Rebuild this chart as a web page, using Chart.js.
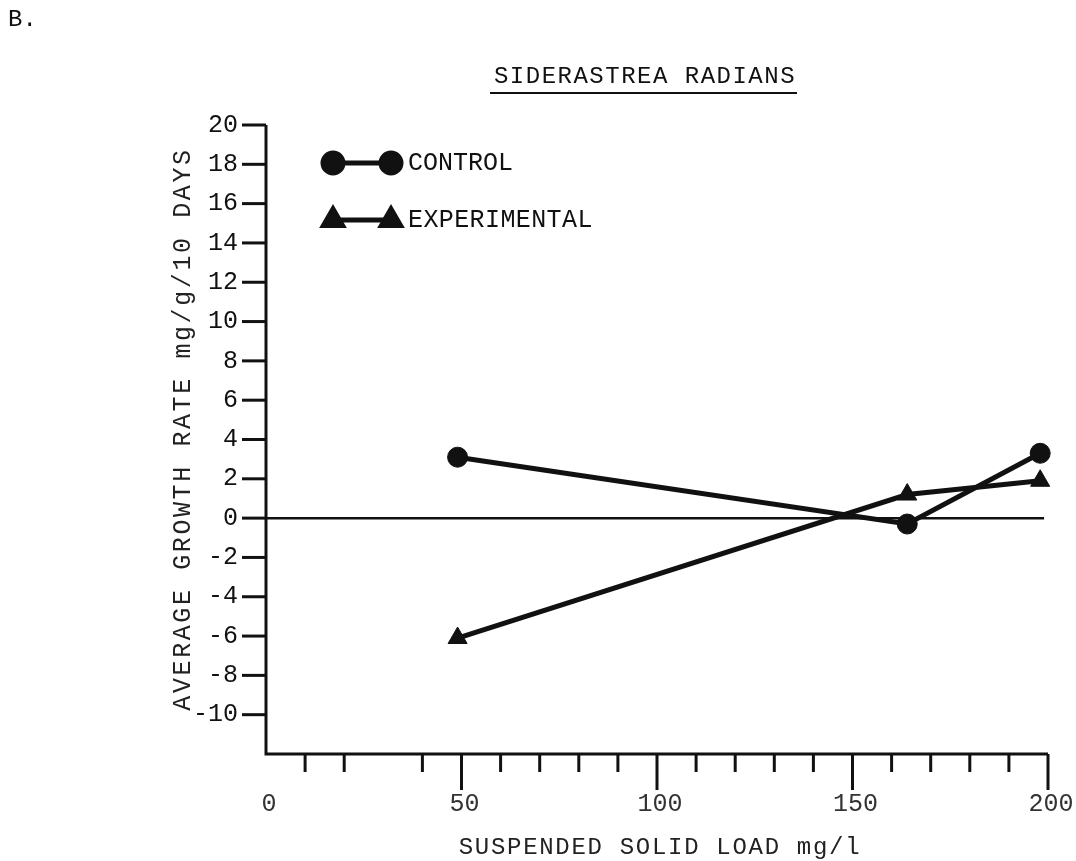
<!DOCTYPE html>
<html>
<head>
<meta charset="utf-8">
<title>Siderastrea radians growth rate</title>
<script src="https://cdn.jsdelivr.net/npm/chart.js@4.4.1/dist/chart.umd.min.js"></script>
<style>
  html, body { margin: 0; padding: 0; background: #fff; }
  #wrap { width: 1076px; height: 861px; position: relative; }
</style>
</head>
<body>
<div id="wrap"><canvas id="c" width="1076" height="861"></canvas></div>
<script>
// Suspended solid load (mg/l) for each measurement
const loads = [49, 164, 198];
// Average growth rate, mg/g per 10 days
const controlRate = [3.1, -0.3, 3.3];
const experimentalRate = [-6.1, 1.2, 1.9];

// Axis tick values and labels
const yTickValues = [20, 18, 16, 14, 12, 10, 8, 6, 4, 2, 0, -2, -4, -6, -8, -10];
const xShortTicks = [10, 20, 40, 60, 70, 80, 90, 110, 120, 130, 140, 160, 170, 180, 190];
const xLongTicks = [50, 100, 150, 200];
const xLabelValues = [0, 50, 100, 150, 200];

const FONT = '"Liberation Mono", "Courier New", monospace';

function text(ctx, str, x, y, size, align, spacing, color) {
  ctx.save();
  ctx.font = size + 'px ' + FONT;
  ctx.fillStyle = color || '#111';
  ctx.textAlign = align || 'left';
  ctx.textBaseline = 'middle';
  ctx.letterSpacing = (spacing || 0) + 'px';
  ctx.fillText(str, x, y);
  ctx.restore();
}

// Draws the axes, ticks, labels, zero line, titles and legend from the chart scales
const paperAxes = {
  id: 'paperAxes',
  beforeDatasetsDraw(chart) {
    const ctx = chart.ctx;
    const xs = chart.scales.x, ys = chart.scales.y;
    const x0 = xs.getPixelForValue(0), x1 = xs.getPixelForValue(200);
    const yTop = ys.getPixelForValue(20), yBot = ys.getPixelForValue(-12);

    ctx.save();
    ctx.strokeStyle = '#111';
    ctx.lineCap = 'butt';

    // axis frame (left and bottom)
    ctx.lineWidth = 3;
    ctx.beginPath();
    ctx.moveTo(x0, yTop);
    ctx.lineTo(x0, yBot);
    ctx.lineTo(x1, yBot);
    ctx.stroke();

    // y ticks and labels
    yTickValues.forEach(v => {
      const py = ys.getPixelForValue(v);
      ctx.lineWidth = 3;
      ctx.beginPath();
      ctx.moveTo(x0 - 24, py);
      ctx.lineTo(x0, py);
      ctx.stroke();
      text(ctx, String(v), x0 - 28, py, 25, 'right', 0);
    });

    // x ticks
    ctx.lineWidth = 3;
    xShortTicks.forEach(v => {
      const px = xs.getPixelForValue(v);
      ctx.beginPath();
      ctx.moveTo(px, yBot);
      ctx.lineTo(px, yBot + 18);
      ctx.stroke();
    });
    xLongTicks.forEach(v => {
      const px = xs.getPixelForValue(v);
      ctx.beginPath();
      ctx.moveTo(px, yBot);
      ctx.lineTo(px, yBot + 36);
      ctx.stroke();
    });
    xLabelValues.forEach(v => {
      const px = xs.getPixelForValue(v);
      text(ctx, String(v), px + 3, yBot + 50, 25, 'center', 0, '#333');
    });

    // zero reference line
    ctx.lineWidth = 2.5;
    ctx.beginPath();
    ctx.moveTo(x0, ys.getPixelForValue(0));
    ctx.lineTo(xs.getPixelForValue(199), ys.getPixelForValue(0));
    ctx.stroke();

    // axis titles
    text(ctx, 'SUSPENDED SOLID LOAD mg/l', 660, 848, 24, 'center', 1.7, '#222');
    ctx.save();
    ctx.translate(183, 429);
    ctx.rotate(-Math.PI / 2);
    text(ctx, 'AVERAGE GROWTH RATE mg/g/10 DAYS', 0, 0, 25, 'center', 2.6, '#222');
    ctx.restore();

    // chart title with underline
    text(ctx, 'SIDERASTREA RADIANS', 645, 77, 24, 'center', 1.5);
    ctx.lineWidth = 2;
    ctx.beginPath();
    ctx.moveTo(490, 93);
    ctx.lineTo(797, 93);
    ctx.stroke();

    // panel letter
    text(ctx, 'B.', 8, 20, 24, 'left', 0);

    // legend: line segment with a marker at each end
    chart.data.datasets.forEach((ds, i) => {
      const ly = 163 + i * 57;
      const lx0 = 333, lx1 = 391;
      ctx.lineWidth = ds.borderWidth;
      ctx.strokeStyle = ds.borderColor;
      ctx.beginPath();
      ctx.moveTo(lx0, ly);
      ctx.lineTo(lx1, ly);
      ctx.stroke();
      [lx0, lx1].forEach(px => {
        Chart.helpers.drawPoint(ctx, {
          pointStyle: ds.pointStyle, radius: ds.pointRadius, rotation: 0, borderWidth: 1
        }, px, ly);
        ctx.fillStyle = ds.pointBackgroundColor;
        ctx.fill();
      });
      text(ctx, ds.label, 408, ly, 25, 'left', i === 0 ? 0 : 0.4);
    });
    ctx.restore();
  }
};

const toPoints = ys => loads.map((x, i) => ({ x: x, y: ys[i] }));

new Chart(document.getElementById('c'), {
  type: 'line',
  data: {
    datasets: [
      {
        label: 'CONTROL',
        data: toPoints(controlRate),
        borderColor: '#111',
        borderWidth: 5,
        pointStyle: 'circle',
        pointRadius: 10,
        pointBackgroundColor: '#111',
        pointBorderColor: '#111',
        pointBorderWidth: 1,
        tension: 0,
        clip: false
      },
      {
        label: 'EXPERIMENTAL',
        data: toPoints(experimentalRate),
        borderColor: '#111',
        borderWidth: 5,
        pointStyle: 'triangle',
        pointRadius: 11,
        pointBackgroundColor: '#111',
        pointBorderColor: '#111',
        pointBorderWidth: 1,
        tension: 0,
        clip: false
      }
    ]
  },
  options: {
    responsive: false,
    animation: false,
    devicePixelRatio: 1,
    layout: { padding: { left: 266, right: 28, top: 125, bottom: 107 } },
    scales: {
      x: { type: 'linear', min: 0, max: 200, display: false },
      y: { type: 'linear', min: -12, max: 20, display: false }
    },
    plugins: {
      legend: { display: false },
      tooltip: { enabled: false },
      title: { display: false }
    }
  },
  plugins: [paperAxes]
});
</script>
</body>
</html>
